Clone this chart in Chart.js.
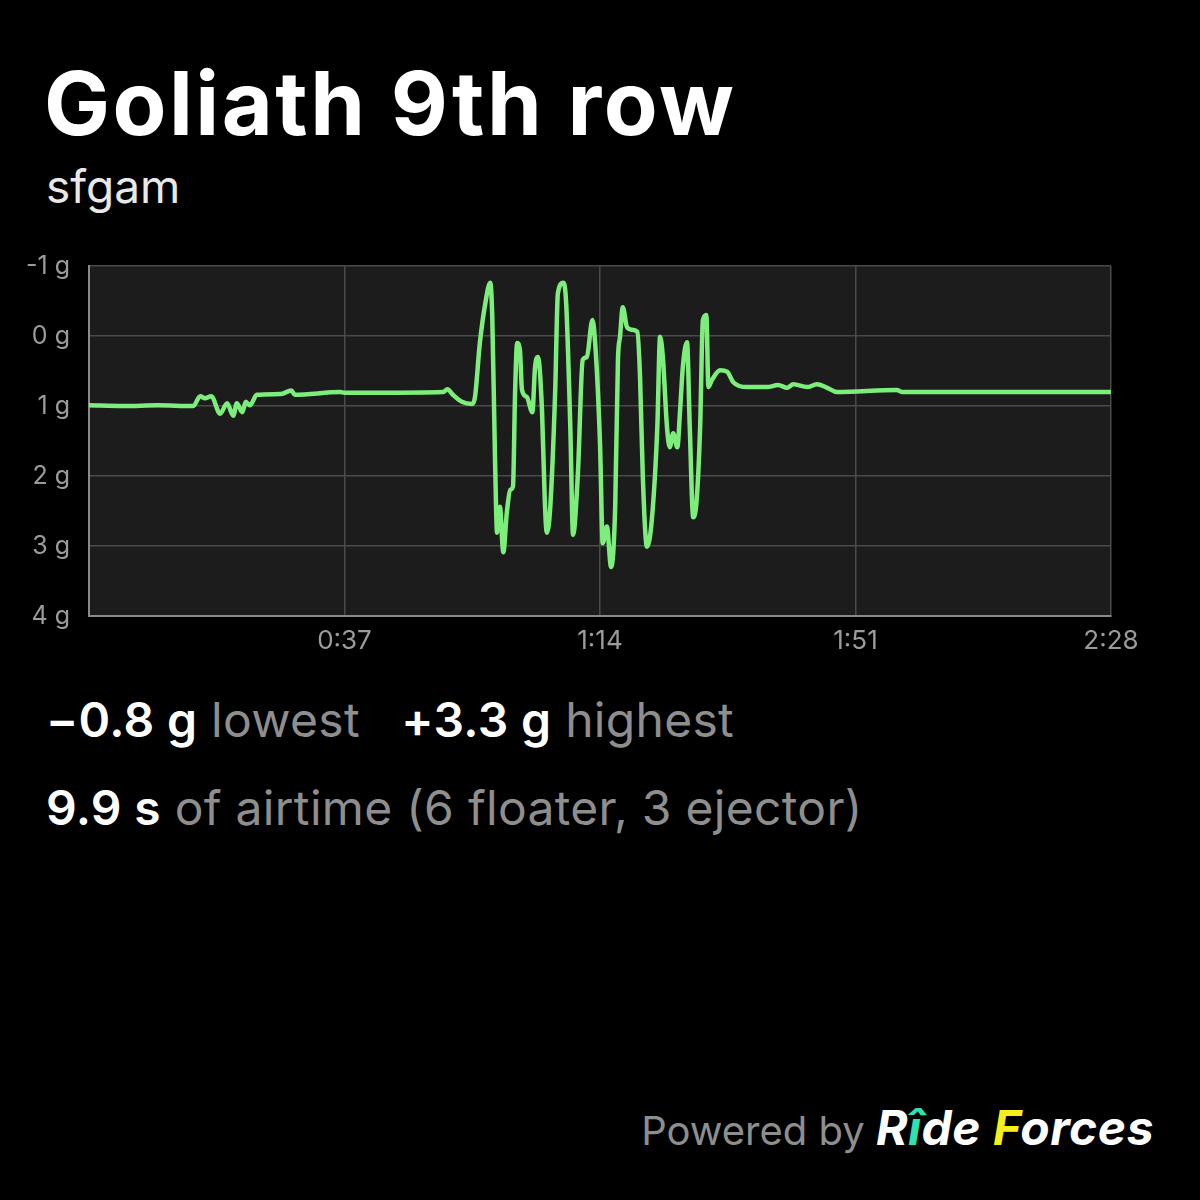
<!DOCTYPE html>
<html>
<head>
<meta charset="utf-8">
<script src="https://cdn.jsdelivr.net/npm/chart.js@4.4.1/dist/chart.umd.min.js"></script>
<style>
html,body{margin:0;padding:0;background:#000;}
body{width:1200px;height:1200px;position:relative;overflow:hidden;font-family:Inter,"Noto Sans",sans-serif;color:#fff;}
.t{position:absolute;white-space:nowrap;}
#title{left:44px;top:50px;font-size:88px;font-weight:700;letter-spacing:2.5px;}
#sub{left:46px;top:158px;font-size:46px;color:#e8e8e8;}
#chartBox{position:absolute;left:0;top:250px;width:1200px;height:420px;}
.stat{font-size:48px;color:#8e8e8e;letter-spacing:0.3px;}
.stat b{color:#fff;font-weight:600;}
#s1{left:46px;top:690px;}
#s2{left:46px;top:778px;}
#pw{right:46px;top:1098px;font-size:40px;color:#8e8e8e;}
#pw .logo{color:#fff;font-weight:700;font-style:italic;font-size:48px;letter-spacing:0.5px;}
#pw .i{color:#2fe0b4;}
#pw .f{color:#f5ef1c;}
</style>
</head>
<body>
<div class="t" id="title">Goliath 9th row</div>
<div class="t" id="sub">sfgam</div>
<div id="chartBox"><canvas id="forceChart" width="1200" height="420"></canvas></div>
<div class="t stat" id="s1"><b>−0.8 g</b> lowest &nbsp;&nbsp;<b>+3.3 g</b> highest</div>
<div class="t stat" id="s2"><b>9.9 s</b> of airtime (6 floater, 3 ejector)</div>
<div class="t" id="pw">Powered by <span class="logo">R<span class="i">î</span>de <span class="f">F</span>orces</span></div>

<script>

// ride data (seconds, vertical g)

const times = [0,5,10,15,15.1,16.1,16.8,17.7,19,20,20.9,21.4,22.2,22.7,23.3,24.3,27.7,29.3,29.8,36.4,37,42.1,51.3,51.9,52.7,54,55.5,55.9,56.6,57.4,58.1,58.4,58.8,59.1,59.5,60,60.5,61,61.4,61.7,62,62.4,62.7,63.4,64.2,64.6,65,65.6,66,66.3,66.8,67.5,67.9,68.7,69.1,69.7,70.1,70.8,71.5,72.1,72.9,73.3,74,74.4,75,75.6,76.2,76.6,76.9,77.3,77.9,78.6,79.4,79.8,80.2,80.8,81.5,82.3,82.7,83.1,83.7,84.1,84.6,85.2,85.6,86,86.6,87,87.5,88,88.5,88.9,89.4,89.7,90.2,91.4,92.4,93.3,95.3,98.2,99.8,101.1,102,104,105.4,106.9,108.3,117,117.7,130,148]

const forces = [0.99,1.0,0.99,1.0,1.0,0.86,0.89,0.86,1.11,0.96,1.14,0.96,1.09,0.94,0.99,0.84,0.83,0.78,0.84,0.8,0.81,0.81,0.8,0.76,0.84,0.94,0.97,0.87,0.1,-0.47,-0.76,-0.27,1.77,2.81,2.44,3.09,2.53,2.2,2.15,0.82,0.1,0.2,0.77,0.87,1.09,0.44,0.3,1.06,2.34,2.81,2.44,0.82,-0.61,-0.76,-0.47,1.3,2.84,1.96,0.34,0.3,-0.23,0.1,1.53,2.96,2.72,3.3,2.44,0.34,0.01,-0.41,-0.13,-0.09,-0.06,0.59,2.01,3.01,2.63,1.3,0.01,0.3,1.3,1.59,1.39,1.59,1.06,0.44,0.09,1.3,2.59,2.34,1.3,-0.23,-0.3,0.73,0.63,0.49,0.51,0.66,0.73,0.73,0.7,0.74,0.69,0.73,0.69,0.74,0.8,0.77,0.8,0.8,0.8]

const gTicks = [-1,0,1,2,3,4]
const timeTicks = [37,74,111,148]


function fmtTime(s){
const m = Math.floor(s/60)
const r = Math.round(s%60)
return m+":"+(r<10?"0":"")+r
}


// dark plot background

const plotBg = {
id:"plotBg",
beforeDraw(chart){
const a = chart.chartArea
const ctx = chart.ctx
ctx.save()
ctx.fillStyle = "#1c1c1c"
ctx.fillRect(a.left,a.top,a.right-a.left,a.bottom-a.top)
ctx.restore()
}
}


const forceChart = new Chart(

document.getElementById("forceChart"),

{
type:"line",

data:{
datasets:[{
data:times.map((t,i)=>({x:t,y:forces[i]})),
borderColor:"#7ded7b",
borderWidth:4.5,
pointRadius:0,
cubicInterpolationMode:"monotone",
borderJoinStyle:"round",
borderCapStyle:"round",
fill:false
}]
},

options:{
responsive:false,
animation:false,
maintainAspectRatio:false,
layout:{padding:{top:16,right:89,left:0,bottom:0}},
plugins:{legend:{display:false},tooltip:{enabled:false}},
scales:{
x:{
type:"linear",
min:0,
max:148,
afterFit:s=>{s.height=54;s.paddingLeft=0;s.paddingRight=0},
afterBuildTicks:s=>{s.ticks=[{value:0}].concat(timeTicks.map(v=>({value:v})))},
grid:{color:"#4a4a4a",lineWidth:1.5,drawTicks:false},
border:{color:"#8a8a8a",width:2},
ticks:{
color:"#9b9b9b",
font:{family:"Inter",size:26},
padding:10,
maxRotation:0,
autoSkip:false,
callback:v=>v===0?"":fmtTime(v)
}
},
y:{
min:-1,
max:4,
reverse:true,
afterFit:s=>{s.width=89;s.paddingTop=0;s.paddingBottom=0},
afterBuildTicks:s=>{s.ticks=gTicks.map(v=>({value:v}))},
grid:{color:"#4a4a4a",lineWidth:1.5,drawTicks:false},
border:{color:"#8a8a8a",width:2},
ticks:{
color:"#9b9b9b",
font:{family:"Inter",size:25},
padding:19,
autoSkip:false,
callback:v=>v+" g"
}
}
}
},

plugins:[plotBg]

}
)

</script>
</body>
</html>
